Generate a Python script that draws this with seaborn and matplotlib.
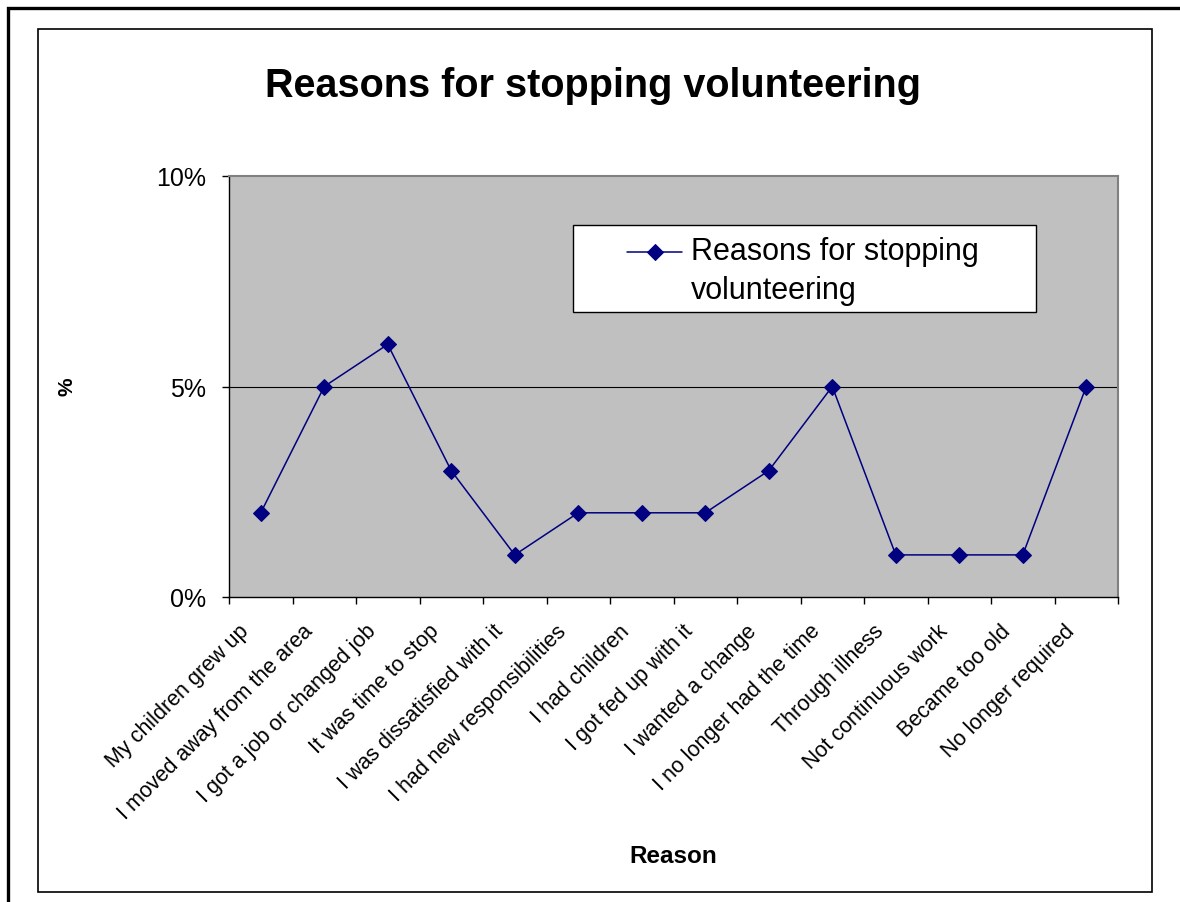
import matplotlib
matplotlib.use("Agg")
import matplotlib.pyplot as plt
from matplotlib.legend_handler import HandlerLine2D
from matplotlib.patches import Rectangle
from matplotlib.ticker import FixedLocator, FuncFormatter
from matplotlib.transforms import ScaledTranslation
import numpy as np
import pandas as pd
import seaborn as sns

reasons = [
    "My children grew up",
    "I moved away from the area",
    "I got a job or changed job",
    "It was time to stop",
    "I was dissatisfied with it",
    "I had new responsibilities",
    "I had children",
    "I got fed up with it",
    "I wanted a change",
    "I no longer had the time",
    "Through illness",
    "Not continuous work",
    "Became too old",
    "No longer required",
]
percent = [2, 5, 6, 3, 1, 2, 2, 2, 3, 5, 1, 1, 1, 5]
y_ticks = [0, 5, 10]
series_name = "Reasons for stopping\nvolunteering"


class FirstLineHandler(HandlerLine2D):
    """Line-with-marker legend key raised to sit beside the first text line."""

    def __init__(self, dy, **kw):
        super().__init__(**kw)
        self.dy = dy

    def create_artists(self, legend, orig_handle, xdescent, ydescent, width, height,
                       fontsize, trans):
        arts = super().create_artists(legend, orig_handle, xdescent, ydescent, width,
                                      height, fontsize, trans)
        for a in arts:
            a.set_ydata(np.asarray(a.get_ydata(), dtype=float) + self.dy)
        return arts


sns.set_theme(style="white")
plt.rcParams["font.family"] = ["Liberation Sans", "DejaVu Sans"]
for key in ["text.color", "axes.labelcolor", "xtick.color", "ytick.color"]:
    plt.rcParams[key] = "black"

W, H = 1180, 903
fig = plt.figure(figsize=(W / 100, H / 100), dpi=100)
fig.patch.set_facecolor("white")

# chart frames (the outer one runs past the right and bottom edges)
fig.add_artist(Rectangle((8 / W, 1 - 915 / H), 1190 / W, 906 / H, transform=fig.transFigure,
                         fill=False, edgecolor="black", linewidth=2.4))
fig.add_artist(Rectangle((38 / W, 1 - 893 / H), 1114 / W, 863 / H, transform=fig.transFigure,
                         fill=False, edgecolor="black", linewidth=1.2))

left, right, top, bottom = 229, 1118, 177, 598
ax = fig.add_axes([left / W, 1 - bottom / H, (right - left) / W, (bottom - top) / H])
ax.set_facecolor("#C0C0C0")

df = pd.DataFrame({"pos": np.arange(len(reasons)), "pct": percent, "series": series_name})
sns.lineplot(data=df, x="pos", y="pct", hue="series", palette=["#000080"], marker="D",
             markersize=8.5, markeredgecolor="#000080", linewidth=1.1, ax=ax, zorder=3)

ax.set_xlim(-0.5, len(reasons) - 0.5)
ax.set_ylim(0, 10)

# gridline
ax.axhline(5, color="black", linewidth=0.8, zorder=1)

# y axis
ax.yaxis.set_major_locator(FixedLocator(y_ticks))
ax.yaxis.set_major_formatter(FuncFormatter(lambda v, _: f"{int(v)}%"))
ax.tick_params(axis="y", which="major", left=True, length=5, width=1, color="black",
               labelsize=18, pad=11.5, direction="out")

# x axis: tick marks at category boundaries, labels at centres
ax.xaxis.set_major_locator(FixedLocator(np.arange(len(reasons))))
ax.set_xticklabels(reasons, rotation=45, ha="right", va="center", rotation_mode="anchor",
                   fontsize=15.5)
ax.xaxis.set_minor_locator(FixedLocator(np.arange(-0.5, len(reasons), 1.0)))
ax.tick_params(axis="x", which="major", bottom=True, length=0, pad=22)
ax.tick_params(axis="x", which="minor", bottom=True, length=5, width=1, color="black",
               direction="out")
shift = ScaledTranslation(-15 / 100, 0, fig.dpi_scale_trans)
for lbl in ax.get_xticklabels():
    lbl.set_transform(lbl.get_transform() + shift)

for side in ["left", "bottom"]:
    ax.spines[side].set_color("black")
    ax.spines[side].set_linewidth(1.0)
for side in ["top", "right"]:
    ax.spines[side].set_color("#808080")
    ax.spines[side].set_linewidth(1.5)

ax.set_xlabel("")
ax.set_ylabel("")

fig.text(593 / W, 1 - 86 / H, "Reasons for stopping volunteering", ha="center", va="center",
         fontsize=28.5, fontweight="bold")
fig.text(67 / W, 1 - 387 / H, "%", ha="center", va="center", rotation=90,
         fontsize=15, fontweight="bold")
fig.text(673 / W, 1 - 857 / H, "Reason", ha="center", va="center",
         fontsize=17.5, fontweight="bold")

# legend box
fig.add_artist(Rectangle((573 / W, 1 - 313 / H), 463 / W, 87 / H, transform=fig.transFigure,
                         facecolor="white", edgecolor="black", linewidth=1.0, zorder=5))
handles, labels = ax.get_legend_handles_labels()
leg = ax.legend(handles, labels, loc="center left", bbox_to_anchor=(627 / W, 1 - 271.5 / H),
                bbox_transform=fig.transFigure, fontsize=22, frameon=False,
                handlelength=1.8, handletextpad=0.3, borderpad=0, borderaxespad=0,
                handler_map={handles[0]: FirstLineHandler(dy=14)})
leg.set_zorder(6)
for t in leg.get_texts():
    t.set_linespacing(1.35)
fig.add_artist(leg)

fig.savefig("out.png", dpi=100)
